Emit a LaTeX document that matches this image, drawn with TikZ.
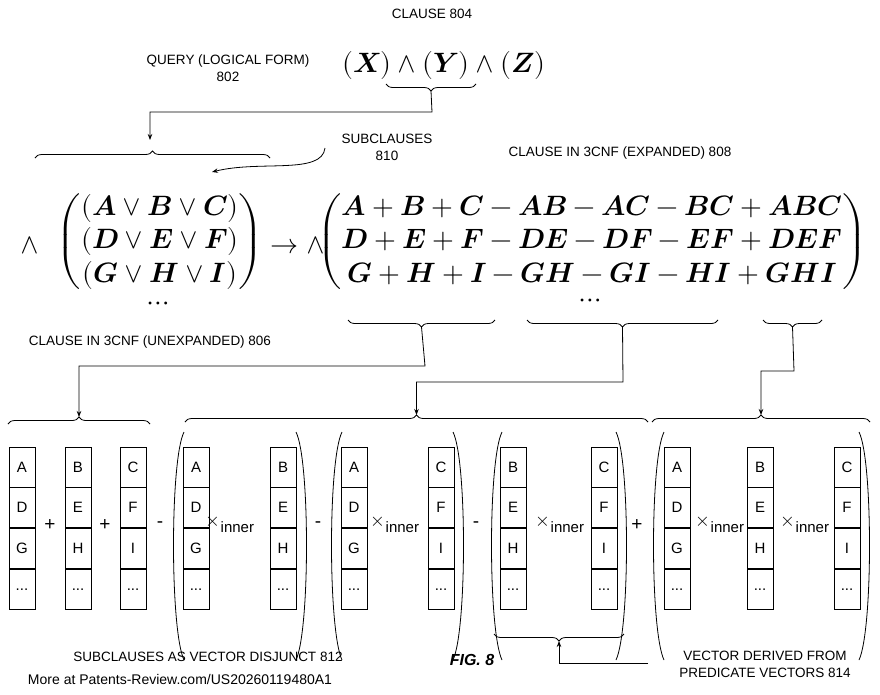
\documentclass[tikz,border=0pt]{standalone}
\usepackage{fontspec}
\usepackage{amsmath,amssymb}
\setmainfont{Liberation Sans}
\usepackage{unicode-math}
\setmathfont{Latin Modern Math}
\usetikzlibrary{decorations.pathreplacing,arrows.meta,positioning}

\tikzset{
  lbl/.style={font=\fontsize{13.5}{17}\selectfont, align=center},
  brc/.style={decorate, decoration={brace, amplitude=7pt}, thick},
  conn/.style={thick, -{Stealth[length=6pt]}},
  cell/.style={draw, thick, minimum width=26pt, minimum height=40pt, font=\fontsize{15}{17}\selectfont},
  op/.style={font=\fontsize{19}{21}\selectfont},
  mx/.style={font=\fontsize{28}{32}\selectfont},
}

\begin{document}
\begin{tikzpicture}[x=1pt,y=-1pt]
	\useasboundingbox (0,0) rectangle (880,694);

	% query
	\node[lbl] (clause) at (432,14) {CLAUSE 804};
	\node[lbl] (query) at (228,68) {QUERY (LOGICAL FORM)\\802};
	\node[mx] (qform) at (444,65) {$\symbfit{(X)}\wedge\symbfit{(Y)}\wedge\symbfit{(Z)}$};
	\draw[brc] (476,84) -- (386,84) coordinate[midway,below=7pt] (ytip);
	\coordinate (ltop) at (150,140);
	\draw[conn] (ytip) -- (432,112) -| (ltop);

	% unexpanded
	\draw[brc] (35,158) -- (270,158) coordinate[midway,above=7pt] (ltip);
	\node[lbl] (sub) at (387,147) {SUBCLAUSES\\810};
	\coordinate (subs) at (325,148);
	\coordinate (sube) at (212,172);
	\draw[thick,-{Stealth[length=6pt]}] (subs) .. controls (322,175) and (260,160) .. (sube);
	\node[mx] (wl) at (30,245) {$\wedge$};
	\node[mx] (lmat) at (160,242) {$\renewcommand{\arraystretch}{1.05}\left(\begin{array}{@{}c@{}}(\symbfit{A}\vee\symbfit{B}\vee\symbfit{C})\\(\symbfit{D}\vee\symbfit{E}\vee\symbfit{F})\\(\symbfit{G}\vee\symbfit{H}\vee\symbfit{I})\end{array}\right)$};
	\node[mx] (ldots) at (158,306) {$\cdots$};
	\node[mx] (to) at (298,245) {$\rightarrow\wedge$};
	\node[lbl] (unexp) at (150,342) {CLAUSE IN 3CNF (UNEXPANDED) 806};

	% expanded
	\node[lbl] (exp) at (620,153) {CLAUSE IN 3CNF (EXPANDED) 808};
	\node[mx] (rmat) at (592,242) {$\renewcommand{\arraystretch}{1.05}\left(\begin{array}{@{}c@{}}\symbfit{A+B+C-AB-AC-BC+ABC}\\\symbfit{D+E+F-DE-DF-EF+DEF}\\\symbfit{G+H+I-GH-GI-HI+GHI}\end{array}\right)$};
	\node[mx] (rdots) at (590,303) {$\cdots$};
	\draw[brc] (495,320) -- (348,320) coordinate[midway,below=7pt] (b1);
	\draw[brc] (718,320) -- (527,320) coordinate[midway,below=7pt] (b2);
	\draw[brc] (822,320) -- (763,320) coordinate[midway,below=7pt] (b3);

	% lower braces
	\draw[brc] (8,424) -- (150,424) coordinate[midway,above=7pt] (t1);
	\draw[brc] (185,422) -- (648,422) coordinate[midway,above=7pt] (t2);
	\draw[brc] (652,422) -- (870,422) coordinate[midway,above=7pt] (t3);
	\draw[conn] (b1) -- (425,366) -| (t1);
	\draw[conn] (b2) -- (623,382) -| (t2);
	\draw[conn] (b3) -- (794,371) -| (t3);

	% vectors
	\foreach \i/\x/\a/\b/\c in {1/22/A/D/G, 2/78/B/E/H, 3/133/C/F/I, 4/196/A/D/G, 5/283/B/E/H,
	  6/354/A/D/G, 7/441/C/F/I, 8/513/B/E/H, 9/604/C/F/I, 10/677/A/D/G, 11/760/B/E/H, 12/847/C/F/I} {
		\node[cell] (v\i a) at (\x,467) {\a};
		\node[cell,below=0pt of v\i a] (v\i b) {\b};
		\node[cell,below=0pt of v\i b] (v\i c) {\c};
		\node[cell,below=0pt of v\i c] (v\i d) {...};
	}
	\foreach \n/\x/\s in {p1/50/+, p2/105/+, m1/160/-, m2/318/-, m3/476/-, p3/637/+} {
		\node[op] (\n) at (\x,525) {\s};
	}
	\foreach \n/\x in {x1/230, x2/395, x3/560, x4/720, x5/805} {
		\node[op] (\n) at (\x,525) {$\times$\raisebox{-6pt}{\fontsize{15}{17}\selectfont inner}};
	}
	\foreach \l/\r in {176/304, 334/461, 494/624, 656/867} {
		\draw[thick] (\l+8,432) .. controls (\l-6,460) and (\l-6,630) .. (\l+8,660);
		\draw[thick] (\r-8,432) .. controls (\r+6,460) and (\r+6,630) .. (\r-8,660);
	}

	% bottom
	\draw[brc] (624,634) -- (494,634) coordinate[midway,below=7pt] (vtip);
	\coordinate (vstart) at (648,663);
	\draw[conn] (vstart) -| (vtip);
	\node[lbl] (vec) at (765,664) {VECTOR DERIVED FROM\\PREDICATE VECTORS 814};
	\node[lbl] (disj) at (208,657) {SUBCLAUSES AS VECTOR DISJUNCT 812};
	\node[font=\bfseries\itshape\fontsize{16}{18}\selectfont] (fig) at (472,660) {FIG. 8};
	\node[lbl,font=\fontsize{14}{16}\selectfont] (more) at (180,679) {More at Patents-Review.com/US20260119480A1};
\end{tikzpicture}
\end{document}
